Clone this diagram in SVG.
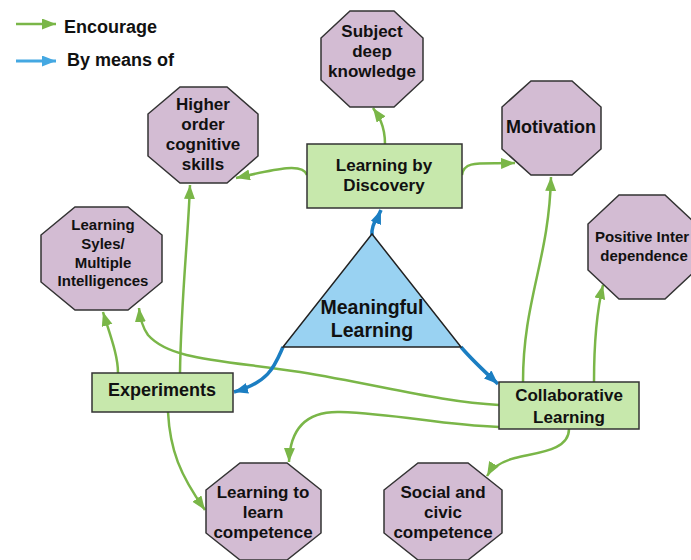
<svg xmlns="http://www.w3.org/2000/svg" width="691" height="560" viewBox="0 0 691 560">
<defs>
<style>
.oct{fill:#d3bcd3;stroke:#333;stroke-width:1.5}
.box{fill:#c7e8ac;stroke:#333;stroke-width:1.5}
.tri{fill:#99d2f2;stroke:#222;stroke-width:1.5}
text{font-family:"Liberation Sans",Arial,sans-serif;font-weight:bold;fill:#111;text-anchor:middle}
.g{fill:none;stroke:#7ab648;stroke-width:2.5;marker-end:url(#ag)}
.b{fill:none;stroke:#1b7ec2;stroke-width:3.5;marker-end:url(#ab)}
.lb{fill:none;stroke:#44a8e2;stroke-width:3;marker-end:url(#alb)}
</style>
<marker id="ag" markerUnits="userSpaceOnUse" markerWidth="16" markerHeight="12" refX="14" refY="5.5" orient="auto"><path d="M0,0 L14,5.5 L0,11 z" fill="#7ab648"/></marker>
<marker id="ab" markerUnits="userSpaceOnUse" markerWidth="16" markerHeight="12" refX="14" refY="5.5" orient="auto"><path d="M0,0 L14,5.5 L0,11 z" fill="#1b7ec2"/></marker>
<marker id="alb" markerUnits="userSpaceOnUse" markerWidth="16" markerHeight="12" refX="14" refY="5.5" orient="auto"><path d="M0,0 L14,5.5 L0,11 z" fill="#44a8e2"/></marker>
</defs>
<rect width="691" height="560" fill="#fff"/>

<g id="legend">
<path class="g" d="M16,24 L56,24"/>
<text x="64" y="33" font-size="18" style="text-anchor:start">Encourage</text>
<path class="lb" d="M16,61 L56,61"/>
<text x="67" y="66" font-size="18" style="text-anchor:start">By means of</text>
</g>

<g id="connectors">
<path class="g" d="M385,144 C385,125 378,115 373,108"/>
<path class="g" d="M307,175 C303,163 280,168 236,178"/>
<path class="g" d="M462,175 C464,160 480,164 515,163"/>
<path class="g" d="M523,382 C523,300 549,260 551,177"/>
<path class="g" d="M594,382 C594,340 597,310 603,285"/>
<path class="g" d="M499,405 C440,402 380,385 300,372 C220,360 170,360 148,335 C143,328 140,318 139,308"/>
<path class="g" d="M499,427 C440,425 400,414 340,412 C305,411 290,430 289,462"/>
<path class="g" d="M569,429 C569,450 540,452 515,458 C500,462 491,469 487,476"/>
<path class="g" d="M118,373 C118,355 110,335 103,312"/>
<path class="g" d="M180,373 C181,300 188,240 190,185"/>
<path class="g" d="M168,412 C170,450 180,475 205,510"/>
<path class="b" d="M372,236 C371,224 377,220 381,210"/>
<path class="b" d="M283,347 C275,365 270,382 234,392"/>
<path class="b" d="M461,347 C472,360 485,372 498,384"/>
</g>

<g id="subject">
<polygon class="oct" points="350,11 394,11 423,38 423,80 394,107 350,107 321,80 321,38"/>
<text x="372" y="37" font-size="17">Subject</text>
<text x="372" y="57" font-size="17">deep</text>
<text x="372" y="77" font-size="17">knowledge</text>
</g>

<g id="higher">
<polygon class="oct" points="180,87 227,87 258,114 258,156 227,183 180,183 148,156 148,114"/>
<text x="203" y="110" font-size="17">Higher</text>
<text x="203" y="130" font-size="17">order</text>
<text x="203" y="150" font-size="17">cognitive</text>
<text x="203" y="170" font-size="17">skills</text>
</g>

<g id="motivation">
<polygon class="oct" points="531,81 572,81 601,107 601,149 572,175 531,175 502,149 502,107"/>
<text x="551" y="133" font-size="18">Motivation</text>
</g>

<g id="positive">
<polygon class="oct" points="619,195 665,195 696,224 696,270 665,299 619,299 588,270 588,224"/>
<text x="642" y="242" font-size="15">Positive Inter</text>
<text x="644" y="261" font-size="15">dependence</text>
</g>

<g id="styles">
<polygon class="oct" points="75,207 128,207 162,235 162,282 128,310 75,310 41,282 41,235"/>
<text x="103" y="230" font-size="15">Learning</text>
<text x="103" y="249" font-size="15">Syles/</text>
<text x="103" y="268" font-size="15">Multiple</text>
<text x="103" y="286" font-size="15">Intelligences</text>
</g>

<g id="learntolearn">
<polygon class="oct" points="240,463 287,463 321,490 321,533 287,560 240,560 206,533 206,490"/>
<text x="263" y="498" font-size="17">Learning to</text>
<text x="263" y="518" font-size="17">learn</text>
<text x="263" y="538" font-size="17">competence</text>
</g>

<g id="social">
<polygon class="oct" points="418,463 468,463 502,490 502,533 468,560 418,560 384,533 384,490"/>
<text x="443" y="498" font-size="17">Social and</text>
<text x="443" y="518" font-size="17">civic</text>
<text x="443" y="538" font-size="17">competence</text>
</g>

<g id="discovery">
<rect class="box" x="307" y="144" width="155" height="64"/>
<text x="384" y="171" font-size="17">Learning by</text>
<text x="384" y="191" font-size="17">Discovery</text>
</g>

<g id="experiments">
<rect class="box" x="92" y="373" width="141" height="39"/>
<text x="162" y="396" font-size="18">Experiments</text>
</g>

<g id="collaborative">
<rect class="box" x="499" y="382" width="140" height="47"/>
<text x="569" y="401" font-size="17">Collaborative</text>
<text x="569" y="423" font-size="17">Learning</text>
</g>

<g id="meaningful">
<polygon class="tri" points="372,234 461,347 283,347"/>
<text x="372" y="314" font-size="19.5">Meaningful</text>
<text x="372" y="337" font-size="19.5">Learning</text>
</g>
</svg>
